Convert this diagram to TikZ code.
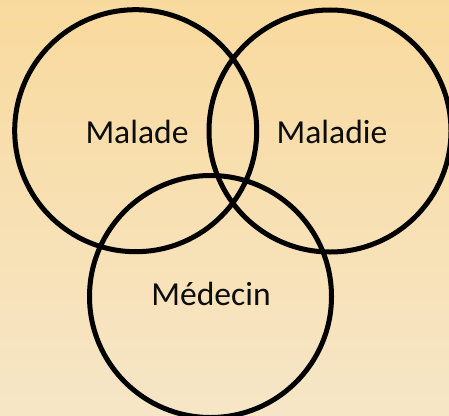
\documentclass[tikz,border=0pt]{standalone}
\usepackage{fontspec}
\setmainfont{Carlito}
\definecolor{bgtop}{HTML}{F9DA9E}
\definecolor{bgbot}{HTML}{F6E6C7}
\begin{document}
\begin{tikzpicture}[x=1pt,y=-1pt,
  ring/.style={circle,draw=black,line width=5pt,minimum size=242pt,inner sep=0pt,outer sep=0pt},
  lbl/.style={anchor=base,inner sep=0pt,font=\fontsize{33.6pt}{40pt}\selectfont,text=black!95}]
\useasboundingbox (0,0) rectangle (449,415);
\shade[top color=bgtop,bottom color=bgbot] (0,0) rectangle (449,415);
\node[ring] (c1) at (135.7,130.7) {};
\node[ring] (c2) at (330,131) {};
\node[ring] (c3) at (210.5,296.5) {};
\node[lbl] (t1) at (137,143) {Malade};
\node[lbl] (t2) at (332,143) {Maladie};
\node[lbl] (t3) at (211,305) {Médecin};
\end{tikzpicture}
\end{document}
